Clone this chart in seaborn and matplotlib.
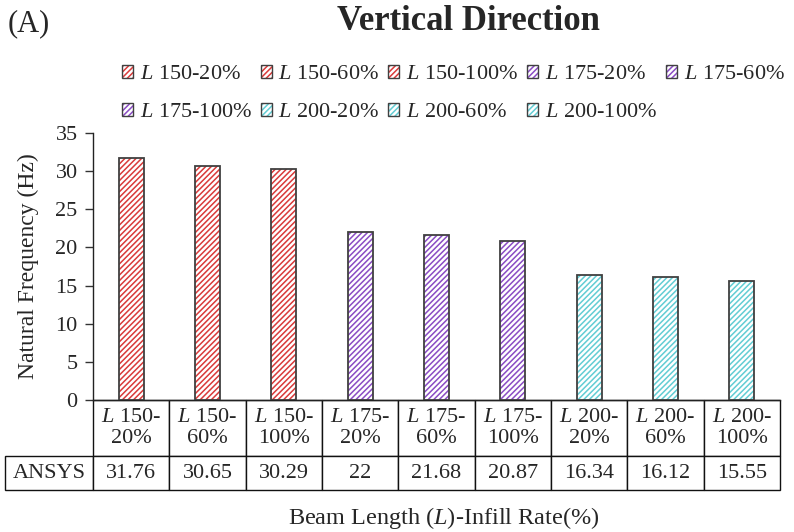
import matplotlib
matplotlib.use("Agg")
import matplotlib.pyplot as plt
from matplotlib.patches import Patch, Rectangle
import seaborn as sns

# Beam length / infill rate combinations and their ANSYS natural frequencies
lengths = ["150", "150", "150", "175", "175", "175", "200", "200", "200"]
infills = ["20%", "60%", "100%", "20%", "60%", "100%", "20%", "60%", "100%"]
frequencies = [31.76, 30.65, 30.29, 22, 21.68, 20.87, 16.34, 16.12, 15.55]
value_labels = ["31.76", "30.65", "30.29", "22", "21.68", "20.87", "16.34", "16.12", "15.55"]
length_colors = {"150": "#d93a3a", "175": "#8a4cc4", "200": "#62cdd4"}
y_ticks = [0, 5, 10, 15, 20, 25, 30, 35]

sns.set_theme(style="white")
plt.rcParams["font.family"] = ["Liberation Serif", "DejaVu Serif"]
plt.rcParams["mathtext.fontset"] = "custom"
plt.rcParams["mathtext.rm"] = "Liberation Serif"
plt.rcParams["mathtext.it"] = "Liberation Serif:italic"
plt.rcParams["hatch.linewidth"] = 1.1

names = [rf"$\mathit{{L}}$ {l}-{i}" for l, i in zip(lengths, infills)]
palette = [length_colors[l] for l in lengths]
outline = "#404040"
hatch = "//////"

AX_W, AX_H = 687, 267  # axes size in pixels
fig = plt.figure(figsize=(7.94, 5.32), dpi=100)
ax = fig.add_axes([93 / 794, 1 - 400 / 532, AX_W / 794, AX_H / 532])

sns.barplot(x=names, y=frequencies, hue=names, palette=palette, width=0.33,
            legend=False, ax=ax)

# hatched fill in the series colour, with a dark outline on top
for patch, col in zip(ax.patches, palette):
    patch.set_facecolor("white")
    patch.set_edgecolor(col)
    patch.set_hatch(hatch)
    patch.set_linewidth(0)
    ax.add_patch(Rectangle(patch.get_xy(), patch.get_width(), patch.get_height(),
                           fill=False, edgecolor=outline, linewidth=1.3, zorder=3))

ax.set_xlim(-0.5, len(names) - 0.5)
ax.set_ylim(0, 35)
ax.set_yticks(y_ticks)
ax.tick_params(axis="y", labelsize=16, left=True, length=6, width=1, color="#333333", pad=5)
ax.tick_params(axis="x", bottom=False, labelbottom=False)
ax.set_xlabel("")
ax.set_ylabel("Natural Frequency (Hz)", fontsize=17, labelpad=12)
for side in ("top", "right"):
    ax.spines[side].set_visible(False)
for side in ("left", "bottom"):
    ax.spines[side].set_color("#222222")
    ax.spines[side].set_linewidth(1.0)

# data table under the bars: grid spans the axes width, row label sits to its left
col_headers = [rf"$\mathit{{L}}$ {l}-" + "\n" + i for l, i in zip(lengths, infills)]
table = ax.table(cellText=[value_labels], rowLabels=["ANSYS"], colLabels=col_headers,
                 cellLoc="center", rowLoc="center", loc="bottom")
table.auto_set_font_size(False)
for (r, c), cell in table.get_celld().items():
    cell.set_edgecolor("#111111")
    cell.set_linewidth(1.0)
    cell.get_text().set_fontsize(16)
    cell.set_height((56 if r == 0 else 34) / AX_H)
    cell.set_width(84 / AX_W if c == -1 else 1 / len(names))

# legend: coloured hatch inside a dark square, filled row by row
handles = [(Patch(facecolor="white", edgecolor=col, hatch=hatch, linewidth=0),
            Patch(facecolor="none", edgecolor=outline, linewidth=1.0)) for col in palette]
order = [0, 5, 1, 6, 2, 7, 3, 8, 4]
fig.legend([handles[i] for i in order], [names[i] for i in order], ncol=5,
           loc="upper left", bbox_to_anchor=(113 / 794, 1 - 56 / 532),
           frameon=False, fontsize=16, handlelength=0.5, handleheight=0.5,
           handletextpad=0.3, columnspacing=0.4, labelspacing=0.85, borderaxespad=0)

fig.text(468 / 794, 1 - 21 / 532, "Vertical Direction", ha="center", va="center",
         fontsize=25, fontweight="bold")
fig.text(8 / 794, 1 - 24 / 532, "(A)", ha="left", va="center", fontsize=22)
fig.text(444 / 794, 1 - 518 / 532, r"Beam Length ($\mathit{L}$)-Infill Rate(%)",
         ha="center", va="center", fontsize=17.5)

fig.savefig("out.png", dpi=100)
